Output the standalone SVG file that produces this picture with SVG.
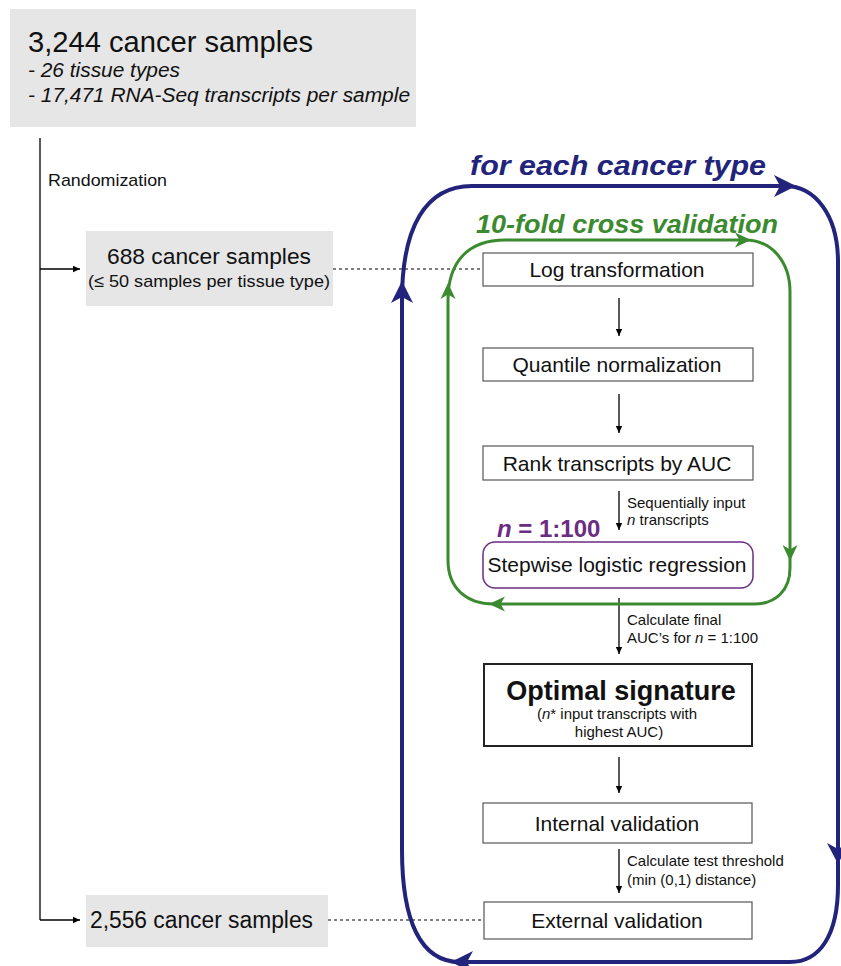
<svg xmlns="http://www.w3.org/2000/svg" width="841" height="966" viewBox="0 0 841 966">
<defs>
<marker id="ah" markerWidth="8" markerHeight="8" refX="7" refY="4" orient="auto" markerUnits="userSpaceOnUse">
<path d="M0,0.8 L7,4 L0,7.2 Z" fill="#000"/>
</marker>
<style>
text{font-family:"Liberation Sans",Arial,sans-serif;fill:#111}
.gbox{fill:#e6e6e6}
.box{fill:#fff;stroke:#555;stroke-width:1.2}
.t20{font-size:21px}
.lbl{font-size:15px}
.con{stroke:#000;stroke-width:1.3;fill:none}
.dot{stroke:#000;stroke-width:1.2;stroke-dasharray:3,3;fill:none}
.blue{stroke:#22237b;stroke-width:4;fill:none}
.green{stroke:#3b8a2f;stroke-width:3;fill:none}
</style>
</defs>

<g id="connectors">
<line class="con" x1="40" y1="138" x2="40" y2="920"/>
<line class="con" x1="40" y1="269" x2="80" y2="269" marker-end="url(#ah)"/>
<line class="con" x1="40" y1="920" x2="80" y2="920" marker-end="url(#ah)"/>
<line class="dot" x1="333" y1="269" x2="497" y2="269"/>
<line class="dot" x1="316" y1="920" x2="494" y2="920"/>
<line class="con" x1="619" y1="298" x2="619" y2="336" marker-end="url(#ah)"/>
<line class="con" x1="619" y1="394" x2="619" y2="433" marker-end="url(#ah)"/>
<line class="con" x1="619" y1="491" x2="619" y2="530" marker-end="url(#ah)"/>
<line class="con" x1="619" y1="598" x2="619" y2="654" marker-end="url(#ah)"/>
<line class="con" x1="619" y1="757" x2="619" y2="793" marker-end="url(#ah)"/>
<line class="con" x1="619" y1="849" x2="619" y2="893" marker-end="url(#ah)"/>
</g>

<g id="loop-cancer-type">
<path class="blue" d="M402,300 C402,228 425,186 472,186 L785,186 C815,186 838,215 838,262 L838,885 C838,935 820,962 790,962 L460,962 C420,962 402,920 402,850 Z"/>
<path d="M796,186 L774,175 L780,186 L774,197 Z" fill="#22237b"/>
<path d="M838,864 L827,843 L838,849 L849,843 Z" fill="#22237b"/>
<path d="M451,962 L473,951 L467,962 L473,973 Z" fill="#22237b"/>
<path d="M402,281 L391,303 L402,297 L413,303 Z" fill="#22237b"/>
<text x="470" y="175" font-size="28" font-weight="bold" font-style="italic" style="fill:#22237b" textLength="296" lengthAdjust="spacingAndGlyphs">for each cancer type</text>
</g>

<g id="loop-crossval">
<path class="green" d="M448,300 C448,262 468,240 505,240 L745,240 C772,240 790,262 790,292 L790,568 C790,590 776,604 754,604 L494,604 C466,604 448,588 448,560 Z"/>
<path d="M751,240 L735,232.5 L739.5,240 L735,247.5 Z" fill="#3b8a2f"/>
<path d="M790,561 L782.5,545 L790,549.5 L797.5,545 Z" fill="#3b8a2f"/>
<path d="M489,604 L505,596.5 L500.5,604 L505,611.5 Z" fill="#3b8a2f"/>
<path d="M448,283 L440.5,299 L448,294.5 L455.5,299 Z" fill="#3b8a2f"/>
<text x="476" y="233" font-size="25" font-weight="bold" font-style="italic" style="fill:#3b8a2f" textLength="302" lengthAdjust="spacingAndGlyphs">10-fold cross validation</text>
</g>

<g id="all-samples">
<rect class="gbox" x="10" y="9" width="406" height="118"/>
<text x="28" y="52" font-size="29" textLength="285" lengthAdjust="spacingAndGlyphs">3,244 cancer samples</text>
<text x="28" y="77" font-size="20.5" font-style="italic" textLength="152" lengthAdjust="spacingAndGlyphs">- 26 tissue types</text>
<text x="28" y="102" font-size="20.5" font-style="italic" textLength="382" lengthAdjust="spacingAndGlyphs">- 17,471 RNA-Seq transcripts per sample</text>
</g>

<g id="randomization-label">
<text x="48" y="186" font-size="17" textLength="119" lengthAdjust="spacingAndGlyphs">Randomization</text>
</g>

<g id="train-samples">
<rect class="gbox" x="86" y="231" width="247" height="75"/>
<text x="209" y="264" font-size="22.5" text-anchor="middle" textLength="204" lengthAdjust="spacingAndGlyphs">688 cancer samples</text>
<text x="209" y="287" font-size="17" text-anchor="middle" textLength="242" lengthAdjust="spacingAndGlyphs">(≤ 50 samples per tissue type)</text>
</g>

<g id="test-samples">
<rect class="gbox" x="86" y="895" width="242" height="52"/>
<text x="90" y="928" font-size="23" textLength="223" lengthAdjust="spacingAndGlyphs">2,556 cancer samples</text>
</g>

<g id="log-transform">
<rect class="box" x="483" y="253" width="270" height="33"/>
<text x="617" y="277" class="t20" text-anchor="middle">Log transformation</text>
</g>

<g id="quantile-norm">
<rect class="box" x="483" y="348" width="270" height="33"/>
<text x="617" y="372" class="t20" text-anchor="middle">Quantile normalization</text>
</g>

<g id="rank-auc">
<rect class="box" x="483" y="446" width="270" height="34"/>
<text x="617" y="471" class="t20" text-anchor="middle">Rank transcripts by AUC</text>
</g>

<g id="seq-label">
<text x="627" y="508" class="lbl">Sequentially input</text>
<text x="627" y="525" class="lbl"><tspan font-style="italic">n</tspan> transcripts</text>
</g>

<g id="stepwise">
<text x="497" y="537" font-size="24" font-weight="bold" style="fill:#6b2d83"><tspan font-style="italic">n</tspan> = 1:100</text>
<rect x="483" y="542" width="270" height="46" rx="12" fill="#fff" stroke="#6b2d83" stroke-width="1.5"/>
<text x="617" y="572" class="t20" text-anchor="middle">Stepwise logistic regression</text>
</g>

<g id="final-label">
<text x="627" y="625" class="lbl">Calculate final</text>
<text x="627" y="643" class="lbl">AUC’s for <tspan font-style="italic">n</tspan> = 1:100</text>
</g>

<g id="optimal">
<rect x="484" y="664" width="268" height="82" fill="#fff" stroke="#222" stroke-width="2"/>
<text x="621" y="700" font-size="27" font-weight="bold" text-anchor="middle">Optimal signature</text>
<text x="617" y="719" font-size="15" text-anchor="middle">(<tspan font-style="italic">n</tspan>* input transcripts with</text>
<text x="619" y="737" font-size="15" text-anchor="middle">highest AUC)</text>
</g>

<g id="internal">
<rect class="box" x="483" y="803" width="269" height="40"/>
<text x="617" y="831" class="t20" text-anchor="middle">Internal validation</text>
</g>

<g id="threshold-label">
<text x="627" y="866" class="lbl">Calculate test threshold</text>
<text x="627" y="885" class="lbl">(min (0,1) distance)</text>
</g>

<g id="external">
<rect class="box" x="484" y="902" width="268" height="37"/>
<text x="617" y="928" class="t20" text-anchor="middle">External validation</text>
</g>
</svg>
